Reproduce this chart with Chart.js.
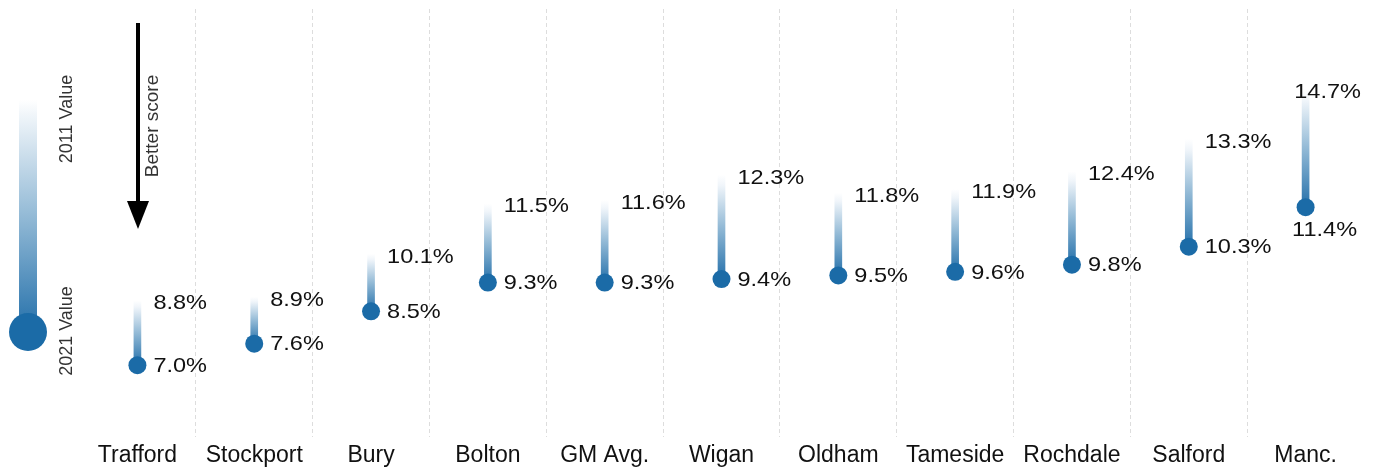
<!DOCTYPE html>
<html>
<head>
<meta charset="utf-8">
<script src="https://cdn.jsdelivr.net/npm/chart.js@4.4.1/dist/chart.umd.min.js"></script>
<style>
  html, body { margin: 0; padding: 0; background: #ffffff; }
  #wrap { position: relative; width: 1376px; height: 469px; }
</style>
</head>
<body>
<div id="wrap"><canvas id="c" width="1376" height="469"></canvas></div>
<script>
const categories = ['Trafford','Stockport','Bury','Bolton','GM Avg.','Wigan','Oldham','Tameside','Rochdale','Salford','Manc.'];
const values2011 = [8.8, 8.9, 10.1, 11.5, 11.6, 12.3, 11.8, 11.9, 12.4, 13.3, 14.7];
const values2021 = [7.0, 7.6, 8.5, 9.3, 9.3, 9.4, 9.5, 9.6, 9.8, 10.3, 11.4];
const legendLabels = ['2011 Value', '2021 Value'];
const arrowLabel = 'Better score';

const BLUE = '#1b6ba7';
const FONT = '"Liberation Sans", Arial, sans-serif';

function barGradient(ctx) {
  const chart = ctx.chart;
  if (!chart.chartArea || ctx.dataIndex === undefined) return '#7aaacb';
  const ys = chart.scales.y;
  const i = ctx.dataIndex;
  const yTop = ys.getPixelForValue(values2011[i]);
  const yBot = ys.getPixelForValue(values2021[i]);
  const g = chart.ctx.createLinearGradient(0, yTop, 0, yBot);
  g.addColorStop(0, 'rgba(255,255,255,1)');
  g.addColorStop(0.1, '#f0f5fa');
  g.addColorStop(0.5, '#93bad6');
  g.addColorStop(1, '#2470aa');
  return g;
}

function stretchedText(ctx, t, x, y, align) {
  const sx = 1.12;
  const w = ctx.measureText(t).width * sx;
  let x0 = x;
  if (align === 'center') x0 = x - w / 2;
  ctx.save();
  ctx.translate(x0, y);
  ctx.scale(sx, 1);
  ctx.textAlign = 'left';
  ctx.fillText(t, 0, 0);
  ctx.restore();
}

const labelPlugin = {
  id: 'valueLabels',
  afterDatasetsDraw(chart) {
    const ctx = chart.ctx;
    const xs = chart.scales.x, ys = chart.scales.y;
    ctx.save();
    ctx.font = '21px ' + FONT;
    ctx.fillStyle = '#111111';
    ctx.textBaseline = 'middle';
    categories.forEach((c, i) => {
      const x = xs.getPixelForValue(i);
      const y11 = ys.getPixelForValue(values2011[i]);
      const y21 = ys.getPixelForValue(values2021[i]);
      const t11 = values2011[i].toFixed(1) + '%';
      const t21 = values2021[i].toFixed(1) + '%';
      if (i === categories.length - 1) {
        stretchedText(ctx, t11, x + 22, y11 + 3, 'center');
        stretchedText(ctx, t21, x + 19, y21 + 23, 'center');
      } else {
        stretchedText(ctx, t11, x + 16, y11 + 3, 'left');
        stretchedText(ctx, t21, x + 16, y21 + 1, 'left');
      }
    });
    ctx.restore();
  }
};

const legendPlugin = {
  id: 'sideLegend',
  afterDraw(chart) {
    const ctx = chart.ctx;
    ctx.save();
    const g = ctx.createLinearGradient(0, 100, 0, 332);
    g.addColorStop(0, 'rgba(255,255,255,1)');
    g.addColorStop(0.06, '#f1f6fa');
    g.addColorStop(0.5, '#93bad6');
    g.addColorStop(1, '#2470aa');
    ctx.fillStyle = g;
    ctx.fillRect(19, 100, 18, 232);
    ctx.beginPath();
    ctx.arc(28, 332, 19, 0, Math.PI * 2);
    ctx.fillStyle = BLUE;
    ctx.fill();
    ctx.fillStyle = '#333333';
    ctx.textAlign = 'center';
    ctx.textBaseline = 'middle';
    const rot = (t, x, y) => {
      ctx.save();
      ctx.translate(x, y);
      ctx.rotate(-Math.PI / 2);
      ctx.fillText(t, 0, 0);
      ctx.restore();
    };
    ctx.font = '18px ' + FONT;
    rot(legendLabels[0], 67, 119);
    rot(legendLabels[1], 67, 331);
    ctx.font = '19px ' + FONT;
    rot(arrowLabel, 153, 126);
    ctx.strokeStyle = '#000000';
    ctx.lineWidth = 4;
    ctx.beginPath();
    ctx.moveTo(138, 23);
    ctx.lineTo(138, 206);
    ctx.stroke();
    ctx.beginPath();
    ctx.moveTo(127, 201);
    ctx.lineTo(149, 201);
    ctx.lineTo(138, 229);
    ctx.closePath();
    ctx.fillStyle = '#000000';
    ctx.fill();
    ctx.restore();
  }
};

const nCat = categories.length;

new Chart(document.getElementById('c'), {
  type: 'bar',
  data: {
    labels: categories,
    datasets: [
      {
        type: 'line',
        label: '2021',
        data: values2021,
        showLine: false,
        pointRadius: 9,
        pointHoverRadius: 9,
        pointBackgroundColor: BLUE,
        pointBorderColor: BLUE,
        pointBorderWidth: 0,
        order: 0
      },
      {
        type: 'bar',
        label: 'Change',
        data: categories.map((c, i) => [values2021[i], values2011[i]]),
        backgroundColor: barGradient,
        borderWidth: 0,
        barThickness: 7,
        order: 1
      }
    ]
  },
  options: {
    responsive: false,
    animation: false,
    events: [],
    layout: { padding: { left: 79, right: 12, top: 8, bottom: 0 } },
    plugins: { legend: { display: false }, tooltip: { enabled: false } },
    scales: {
      x: {
        offset: true,
        afterFit(scale) { scale.height = 32; },
        grid: {
          offset: true,
          drawTicks: false,
          color: (ctx) => (ctx.index === undefined || ctx.index === 0 || ctx.index >= nCat) ? 'rgba(0,0,0,0)' : '#dddddd',
          lineWidth: 1
        },
        border: { display: false, dash: [4, 3] },
        ticks: {
          padding: 5,
          maxRotation: 0,
          minRotation: 0,
          autoSkip: false,
          color: '#111111',
          font: { family: FONT, size: 23 }
        }
      },
      y: {
        display: false,
        min: 5,
        max: 16.92
      }
    }
  },
  plugins: [labelPlugin, legendPlugin]
});
</script>
</body>
</html>
